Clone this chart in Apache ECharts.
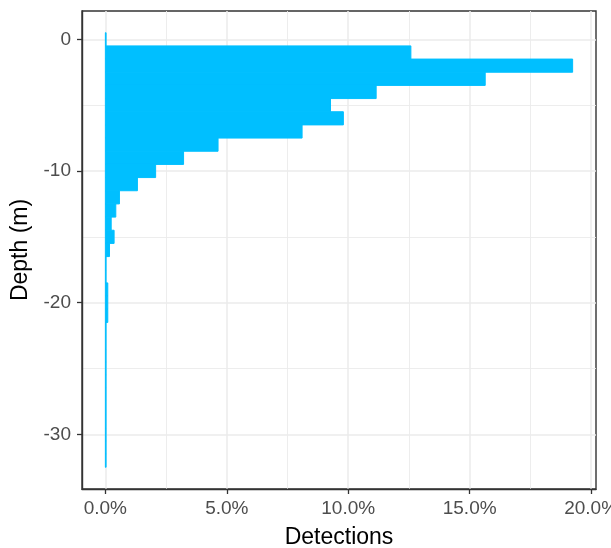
<!DOCTYPE html>
<html>
<head>
<meta charset="utf-8">
<script src="https://cdn.jsdelivr.net/npm/echarts@6/dist/echarts.min.js"></script>
<style>
html,body{margin:0;padding:0;background:#fff;}
#chart{width:611px;height:548px;}
</style>
</head>
<body>
<div id="chart"></div>
<script>
// Bin centres (depth, m), 1 m bins
const depths = [0,-1,-2,-3,-4,-5,-6,-7,-8,-9,-10,-11,-12,-13,-14,-15,-16,-17,-18,-19,-20,-21,-22,-23,-24,-25,-26,-27,-28,-29,-30,-31,-32];
// Share of detections (%) per bin
const detections = [0.03,12.58,19.24,15.64,11.15,9.27,9.80,8.10,4.64,3.22,2.07,1.32,0.58,0.43,0.24,0.36,0.17,0.03,0.03,0.10,0.10,0.10,0.03,0.03,0.03,0.03,0.03,0.03,0.03,0.03,0.03,0.03,0.03];
const xMajor = [0,5,10,15,20];
const xMinor = [2.5,7.5,12.5,17.5];
const yMajor = [0,-10,-20,-30];
const yMinor = [-5,-15,-25];
const binWidth = 1;

const maxV = Math.max(...detections);
const xMin = -0.05*maxV, xMax = 1.05*maxV;
const binTop = Math.max(...depths) + binWidth/2, binBot = Math.min(...depths) - binWidth/2;
const yPad = 0.05*(binTop-binBot);
const yMin = binBot - yPad, yMax = binTop + yPad;

const FONT = '"Liberation Sans", Arial, sans-serif';
const gridCol = '#ebebeb';

const chart = echarts.init(document.getElementById('chart'), null, {renderer:'canvas'});
chart.setOption({
  animation:false,
  backgroundColor:'#fff',
  grid:{left:82,right:15,top:11,bottom:59,containLabel:false,outerBoundsMode:'none',show:true,borderColor:'#333333',borderWidth:1.4,backgroundColor:'transparent'},
  xAxis:[{
    type:'value',min:xMin,max:xMax,position:'bottom',
    axisLine:{show:true,onZero:false,lineStyle:{color:'#333333',width:1.4}},
    axisTick:{show:true,inside:false,customValues:xMajor,length:5,lineStyle:{color:'#333333',width:1.3}},
    axisLabel:{customValues:xMajor,formatter:v=>v.toFixed(1)+'%',color:'#4d4d4d',fontSize:19,fontFamily:FONT,margin:10},
    splitLine:{show:true,lineStyle:{color:gridCol,width:1.5}},
    name:'Detections',nameLocation:'middle',nameGap:37,
    nameTextStyle:{color:'#000',fontSize:23,fontFamily:FONT}
  },{
    type:'value',min:xMin,max:xMax,position:'bottom',
    axisLine:{show:false,onZero:false},
    axisTick:{show:true,customValues:xMinor,length:0,lineStyle:{opacity:0}},
    axisLabel:{show:false},
    splitLine:{show:true,lineStyle:{color:gridCol,width:0.9}}
  }],
  yAxis:[{
    type:'value',min:yMin,max:yMax,position:'left',
    axisLine:{show:true,onZero:false,lineStyle:{color:'#333333',width:1.4}},
    axisTick:{show:true,inside:false,customValues:yMajor,length:5,lineStyle:{color:'#333333',width:1.3}},
    axisLabel:{customValues:yMajor,color:'#4d4d4d',fontSize:19,fontFamily:FONT,margin:11},
    splitLine:{show:true,lineStyle:{color:gridCol,width:1.5}},
    name:'Depth (m)',nameLocation:'middle',nameGap:47,nameRotate:90,
    nameTextStyle:{color:'#000',fontSize:23,fontFamily:FONT}
  },{
    type:'value',min:yMin,max:yMax,position:'left',
    axisLine:{show:false,onZero:false},
    axisTick:{show:true,customValues:yMinor,length:0,lineStyle:{opacity:0}},
    axisLabel:{show:false},
    splitLine:{show:true,lineStyle:{color:gridCol,width:0.9}}
  }],
  series:[{
    type:'custom',
    xAxisIndex:0,yAxisIndex:0,
    clip:true,
    encode:{x:1,y:0},
    data:depths.map((d,i)=>[d,detections[i]]),
    renderItem:function(params,api){
      const d = api.value(0), v = api.value(1);
      const p1 = api.coord([0, d + binWidth/2]);
      const p2 = api.coord([v, d - binWidth/2]);
      return {
        type:'rect',
        shape:{x:p1[0],y:p1[1],width:p2[0]-p1[0],height:p2[1]-p1[1]},
        style:{fill:'#00BFFF',stroke:'#00BFFF',lineWidth:1}
      };
    }
  }]
});
</script>
</body>
</html>
